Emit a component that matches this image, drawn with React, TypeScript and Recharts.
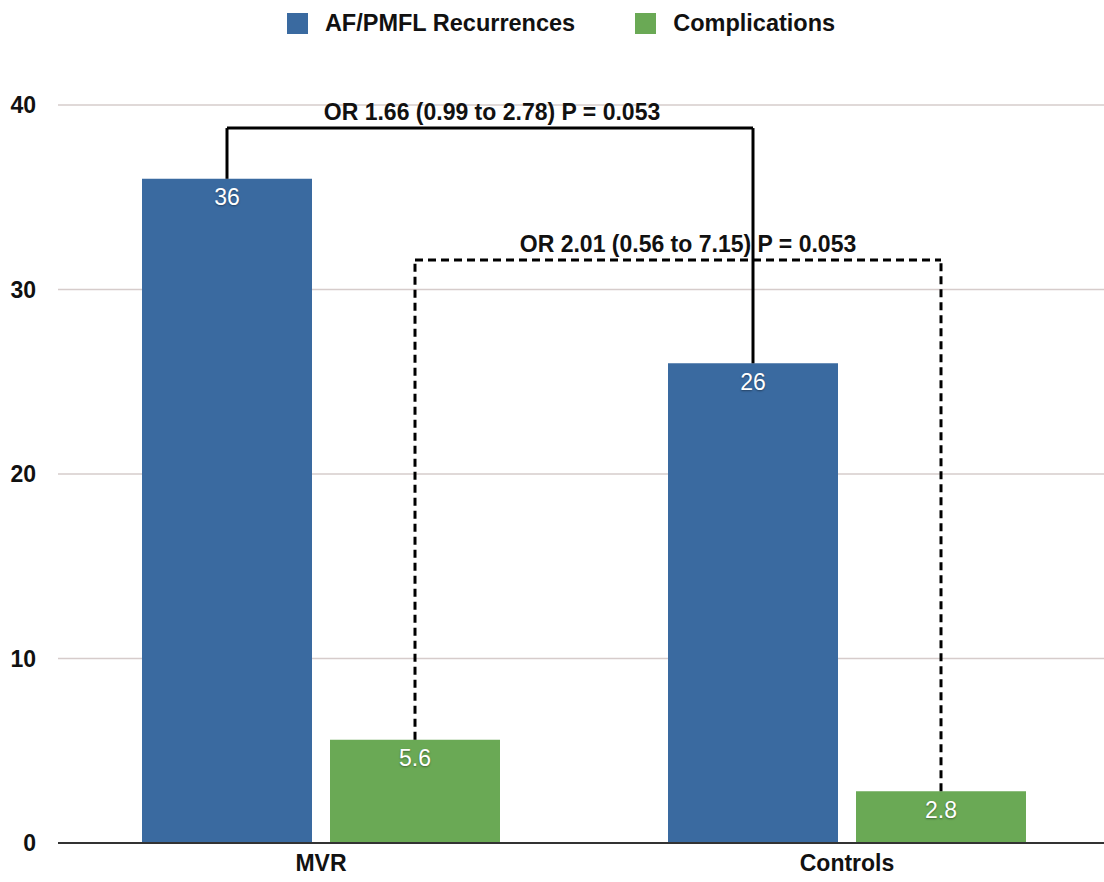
import React from 'react';
import { BarChart, Bar, XAxis, YAxis, CartesianGrid, Legend, LabelList, ReferenceLine } from 'recharts';

const categories = ['MVR', 'Controls'];
const recurrences = [36, 26];
const complications = [5.6, 2.8];
const yTicks = [0, 10, 20, 30, 40];
const seriesNames = ['AF/PMFL Recurrences', 'Complications'];
const seriesColors = ['#3a6aa0', '#6aa955'];

// comparison brackets: series index, bracket level (y value), label, dashed
const bracketSeries = [1, 0];
const bracketLevels = [31.6, 38.75];
const bracketLabels = ['OR 2.01 (0.56 to 7.15) P = 0.053', 'OR 1.66 (0.99 to 2.78) P = 0.053'];
const bracketDashed = [true, false];

const data = categories.map((c, i) => ({ name: c, rec: recurrences[i], comp: complications[i] }));
const seriesValues = [recurrences, complications];

const CHART_W = 1110;
const CHART_H = 882;
const Y_W = 58;
const BAND = (CHART_W - Y_W) / categories.length;
const CAT_GAP = 84;
const BAR_GAP = 18;
const BAR_SIZE = (BAND - 2 * CAT_GAP - BAR_GAP) / 2;
// center of a series' bar in category i, as a fraction of the plot width
const barCenter = (cat: number, s: number) =>
  (cat + (CAT_GAP + BAR_SIZE / 2 + s * (BAR_SIZE + BAR_GAP)) / BAND) / categories.length;

const FONT = '"Liberation Sans", Arial, Helvetica, sans-serif';

const LegendContent = (props: any) => {
  const payload = props.payload || [];
  return (
    <div style={{ display: 'flex', justifyContent: 'center', gap: 60, paddingLeft: 12 }}>
      {payload.map((p: any) => (
        <div key={p.value} style={{ display: 'flex', alignItems: 'center' }}>
          <span style={{ display: 'inline-block', width: 21, height: 21, background: p.color, marginRight: 17 }} />
          <span style={{ fontFamily: FONT, fontWeight: 700, fontSize: 23.5, color: '#111' }}>{p.value}</span>
        </div>
      ))}
    </div>
  );
};

export default function App() {
  const brackets: React.ReactNode[] = [];
  bracketSeries.forEach((s, k) => {
    const level = bracketLevels[k];
    const dash = bracketDashed[k] ? '8 5' : undefined;
    const x0 = barCenter(0, s);
    const x1 = barCenter(1, s);
    const common = { xAxisId: 'pos', stroke: '#000', strokeWidth: 3, strokeDasharray: dash, ifOverflow: 'visible' as const };
    brackets.push(
      <ReferenceLine key={`l${k}`} {...common} segment={[{ x: x0, y: seriesValues[s][0] }, { x: x0, y: level }]} />,
      <ReferenceLine key={`r${k}`} {...common} segment={[{ x: x1, y: seriesValues[s][1] }, { x: x1, y: level }]} />,
      <ReferenceLine
        key={`h${k}`}
        {...common}
        segment={[{ x: x0, y: level }, { x: x1, y: level }]}
        label={{
          value: bracketLabels[k],
          position: 'top',
          offset: 8,
          dx: bracketDashed[k] ? 10 : 2,
          fill: '#111',
          fontSize: 23,
          fontWeight: 700,
          fontFamily: FONT,
        }}
      />
    );
  });

  return (
    <div style={{ position: 'absolute', left: 0, top: 0, width: 1104, height: 882, overflow: 'hidden', background: '#fff', fontFamily: FONT }}>
      <BarChart
        width={CHART_W}
        height={CHART_H}
        data={data}
        margin={{ top: 105, right: 0, left: 0, bottom: 0 }}
        barCategoryGap={CAT_GAP}
        barGap={BAR_GAP}
      >
        <CartesianGrid horizontal vertical={false} stroke="#d6cccb" strokeWidth={1.5} />
        <XAxis
          dataKey="name"
          height={39}
          axisLine={{ stroke: '#333', strokeWidth: 2 }}
          tickLine={false}
          tickSize={0}
          tickMargin={12}
          tick={{ fill: '#111', fontSize: 23, fontWeight: 700, fontFamily: FONT }}
        />
        <XAxis xAxisId="pos" type="number" domain={[0, 1]} allowDataOverflow hide />
        <YAxis
          width={Y_W}
          domain={[0, 40]}
          ticks={yTicks}
          axisLine={false}
          tickLine={false}
          tickSize={0}
          tickMargin={22}
          tick={{ fill: '#111', fontSize: 23, fontWeight: 700, fontFamily: FONT }}
        />
        <Legend
          verticalAlign="middle"
          align="center"
          layout="horizontal"
          wrapperStyle={{ top: 10 }}
          content={LegendContent}
        />
        <Bar dataKey="rec" name={seriesNames[0]} fill={seriesColors[0]} legendType="square" isAnimationActive={false}>
          <LabelList dataKey="rec" position="insideTop" offset={10} fill="#fff" fontSize={23} fontFamily={FONT} style={{ textShadow: '0 1px 2px rgba(0,0,0,0.4)' }} />
        </Bar>
        <Bar dataKey="comp" name={seriesNames[1]} fill={seriesColors[1]} legendType="square" isAnimationActive={false}>
          <LabelList dataKey="comp" position="insideTop" offset={10} fill="#fff" fontSize={23} fontFamily={FONT} style={{ textShadow: '0 1px 2px rgba(0,0,0,0.4)' }} />
        </Bar>
        {brackets}
      </BarChart>
    </div>
  );
}
